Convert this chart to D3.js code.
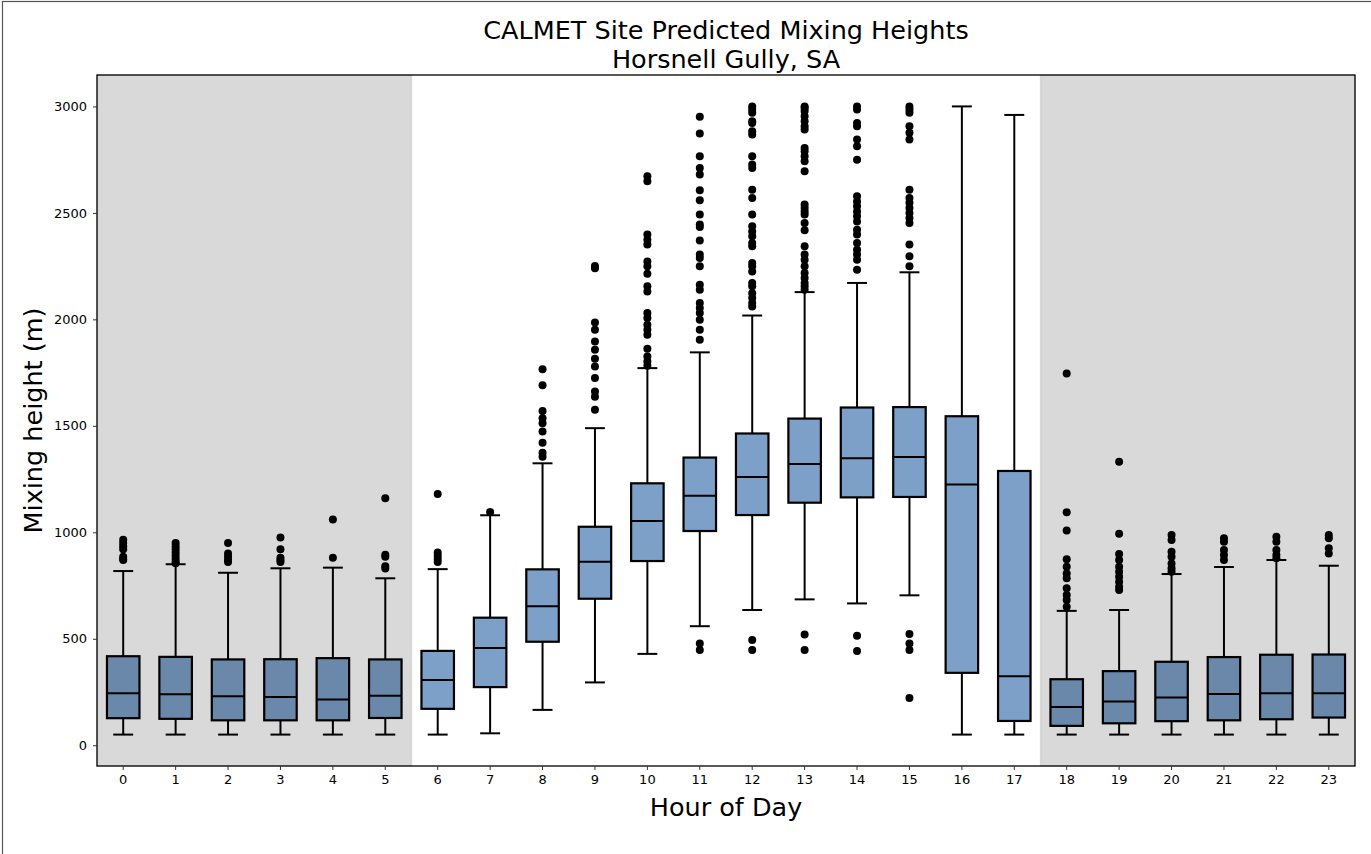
<!DOCTYPE html>
<html>
<head>
<meta charset="utf-8">
<script src="https://cdn.jsdelivr.net/npm/d3@7"></script>
<style>
    body { margin: 0; background: #fff; }
    svg { display: block; font-family: "DejaVu Sans", sans-serif; }
</style>
</head>
<body>
<div id="chart"></div>
<script>
const hours = d3.range(24);

const whiskerLow  = [50, 50, 50, 50, 50, 50, 50, 56, 166, 295, 429, 559, 635, 685, 666, 704, 50, 50, 50, 50, 50, 50, 50, 50];
const q1          = [127, 124, 117, 117, 117, 128, 171, 273, 486, 688, 865, 1006, 1081, 1139, 1164, 1166, 340, 114, 91, 103, 113, 117, 122, 130];
const medians     = [244, 240, 230, 227, 215, 232, 306, 457, 653, 862, 1053, 1172, 1260, 1321, 1348, 1354, 1224, 324, 179, 205, 224, 241, 244, 244];
const q3          = [418, 415, 403, 404, 409, 403, 443, 599, 826, 1026, 1230, 1351, 1464, 1534, 1586, 1588, 1545, 1288, 310, 348, 392, 414, 425, 426];
const whiskerHigh = [818, 850, 810, 831, 834, 784, 827, 1080, 1324, 1489, 1771, 1845, 2018, 2128, 2171, 2221, 3000, 2960, 631, 635, 804, 837, 870, 843];

const outliers = [
    [965, 950, 935, 920, 885, 875, 870],
    [950, 935, 920, 905, 890, 875, 860, 855],
    [950, 900, 885, 870, 860],
    [975, 920, 880, 870, 860],
    [1060, 880],
    [1160, 895, 885, 840, 830],
    [1180, 905, 890, 875, 860],
    [1095],
    [1766, 1691, 1570, 1536, 1512, 1473, 1421, 1374, 1355],
    [2250, 2240, 1985, 1951, 1896, 1857, 1815, 1779, 1724, 1661, 1637, 1575],
    [2672, 2648, 2398, 2374, 2351, 2272, 2249, 2214, 2155, 2131, 2030, 2006, 1975, 1951, 1928, 1862, 1826, 1802, 1782],
    [2951, 2873, 2766, 2711, 2680, 2606, 2559, 2492, 2445, 2434, 2370, 2304, 2288, 2249, 2163, 2139, 2077, 2053, 2030, 1998, 1951, 1904, 478, 447],
    [3000, 2985, 2970, 2930, 2922, 2883, 2868, 2766, 2727, 2711, 2609, 2570, 2492, 2437, 2413, 2390, 2359, 2343, 2265, 2249, 2225, 2171, 2155, 2123, 2100, 2077, 2060, 494, 447],
    [3000, 2993, 2978, 2954, 2930, 2907, 2891, 2805, 2789, 2766, 2742, 2695, 2539, 2523, 2507, 2492, 2453, 2418, 2343, 2304, 2280, 2249, 2218, 2194, 2171, 2155, 2139, 520, 447],
    [3000, 2985, 2922, 2907, 2845, 2813, 2750, 2578, 2554, 2531, 2507, 2484, 2460, 2421, 2398, 2359, 2327, 2304, 2280, 2233, 514, 443],
    [3000, 2985, 2970, 2907, 2876, 2845, 2609, 2570, 2547, 2523, 2500, 2476, 2453, 2351, 2296, 2249, 522, 478, 447, 222],
    [],
    [],
    [1746, 1094, 1008, 874, 838, 807, 784, 737, 705, 682, 650],
    [1331, 993, 898, 870, 838, 815, 791, 768, 744, 729],
    [987, 964, 909, 885, 854, 831, 815],
    [972, 956, 917, 893, 870],
    [979, 956, 917, 893, 878],
    [987, 972, 925, 901]
];

const yTicks = [0, 500, 1000, 1500, 2000, 2500, 3000];
const nightSpans = [[-0.5, 5.5], [17.5, 23.5]];
const titleLines = ["CALMET Site Predicted Mixing Heights", "Horsnell Gully, SA"];

class MixingBox {
    constructor(parentElement) {
        this.parentElement = parentElement;
        this.initVis();
    }

    initVis() {
        let vis = this;

        vis.margin = {top: 75, right: 16, bottom: 88, left: 97};
        vis.totalWidth = 1371;
        vis.totalHeight = 854;
        vis.width = vis.totalWidth - vis.margin.left - vis.margin.right;
        vis.height = vis.totalHeight - vis.margin.top - vis.margin.bottom;

        vis.root = d3.select("#" + vis.parentElement).append("svg")
            .attr("width", vis.totalWidth)
            .attr("height", vis.totalHeight);

        // figure frame (only top and left edges visible in the crop)
        vis.root.append("rect")
            .attr("x", 2.5).attr("y", 1.5)
            .attr("width", vis.totalWidth + 10).attr("height", vis.totalHeight + 10)
            .attr("fill", "none").attr("stroke", "#555").attr("stroke-width", 1.2);

        vis.svg = vis.root.append("g")
            .attr("transform", `translate(${vis.margin.left},${vis.margin.top})`);

        vis.x = d3.scaleBand()
            .domain(hours)
            .range([0, vis.width]);

        // continuous helper so the shaded spans can sit at half-hours
        vis.xLin = d3.scaleLinear()
            .domain([-0.5, 23.5])
            .range([0, vis.width]);

        vis.y = d3.scaleLinear()
            .domain([-97.5, 3147.5])
            .range([vis.height, 0]);

        vis.xAxis = d3.axisBottom(vis.x).tickSizeOuter(0).tickSize(4).tickPadding(5);
        vis.yAxis = d3.axisLeft(vis.y).tickValues(yTicks).tickFormat(d3.format("d"))
            .tickSizeOuter(0).tickSize(4).tickPadding(6);

        vis.wrangleData();
    }

    wrangleData() {
        let vis = this;

        vis.displayData = hours.map((h, i) => ({
            hour: h,
            lo: whiskerLow[i],
            q1: q1[i],
            med: medians[i],
            q3: q3[i],
            hi: whiskerHigh[i],
            fliers: outliers[i]
        }));

        vis.flierData = [];
        vis.displayData.forEach(d => d.fliers.forEach(v => vis.flierData.push({hour: d.hour, value: v})));

        vis.updateVis();
    }

    updateVis() {
        let vis = this;

        let bw = vis.x.bandwidth();
        let boxW = bw * 0.62;
        let capW = bw * 0.38;
        let cx = d => vis.x(d.hour) + bw / 2;

        let groups = vis.svg.selectAll(".box")
            .data(vis.displayData)
            .enter().append("g")
            .attr("class", "box");

        // whiskers
        groups.append("line")
            .attr("x1", cx).attr("x2", cx)
            .attr("y1", d => vis.y(d.q3)).attr("y2", d => vis.y(d.hi))
            .attr("stroke", "#000").attr("stroke-width", 2);
        groups.append("line")
            .attr("x1", cx).attr("x2", cx)
            .attr("y1", d => vis.y(d.q1)).attr("y2", d => vis.y(d.lo))
            .attr("stroke", "#000").attr("stroke-width", 2);

        // caps
        ["hi", "lo"].forEach(key => {
            groups.append("line")
                .attr("x1", d => cx(d) - capW / 2).attr("x2", d => cx(d) + capW / 2)
                .attr("y1", d => vis.y(d[key])).attr("y2", d => vis.y(d[key]))
                .attr("stroke", "#000").attr("stroke-width", 2);
        });

        groups.append("rect")
            .attr("x", d => cx(d) - boxW / 2)
            .attr("y", d => vis.y(d.q3))
            .attr("width", boxW)
            .attr("height", d => vis.y(d.q1) - vis.y(d.q3))
            .attr("fill", "#7ca0c8")
            .attr("stroke", "#000")
            .attr("stroke-width", 2.2);

        groups.append("line")
            .attr("x1", d => cx(d) - boxW / 2).attr("x2", d => cx(d) + boxW / 2)
            .attr("y1", d => vis.y(d.med)).attr("y2", d => vis.y(d.med))
            .attr("stroke", "#000").attr("stroke-width", 2);

        vis.svg.selectAll(".flier")
            .data(vis.flierData)
            .enter().append("circle")
            .attr("class", "flier")
            .attr("cx", d => vis.x(d.hour) + bw / 2)
            .attr("cy", d => vis.y(d.value))
            .attr("r", 4)
            .attr("fill", "#000");

        // night hours shaded on top of the boxes
        vis.svg.selectAll(".night")
            .data(nightSpans)
            .enter().append("rect")
            .attr("class", "night")
            .attr("x", d => vis.xLin(d[0]))
            .attr("y", 0)
            .attr("width", d => vis.xLin(d[1]) - vis.xLin(d[0]))
            .attr("height", vis.height)
            .attr("fill", "#000")
            .attr("fill-opacity", 0.15)
            .attr("stroke", "#000")
            .attr("stroke-opacity", 0.08)
            .attr("stroke-width", 1.5);

        // frame
        vis.svg.append("rect")
            .attr("width", vis.width).attr("height", vis.height)
            .attr("fill", "none").attr("stroke", "#000").attr("stroke-width", 1.3);

        let xg = vis.svg.append("g")
            .attr("class", "x-axis axis")
            .attr("transform", `translate(0,${vis.height})`)
            .call(vis.xAxis);
        let yg = vis.svg.append("g")
            .attr("class", "y-axis axis")
            .call(vis.yAxis);

        [xg, yg].forEach(g => {
            g.select(".domain").remove();
            g.selectAll(".tick line").attr("stroke", "#333").attr("stroke-width", 1);
            g.selectAll(".tick text")
                .attr("fill", "#000")
                .style("font-size", "13px")
                .style("font-family", "DejaVu Sans");
        });

        // titles and labels
        vis.root.selectAll(".title")
            .data(titleLines)
            .enter().append("text")
            .attr("class", "title")
            .attr("x", vis.margin.left + vis.width / 2)
            .attr("y", (d, i) => 39 + i * 29)
            .attr("text-anchor", "middle")
            .style("font-size", "25.5px")
            .text(d => d);

        vis.root.append("text")
            .attr("x", vis.margin.left + vis.width / 2)
            .attr("y", 816)
            .attr("text-anchor", "middle")
            .style("font-size", "25.5px")
            .text("Hour of Day");

        vis.root.append("text")
            .attr("transform", `translate(42,${vis.margin.top + vis.height / 2}) rotate(-90)`)
            .attr("text-anchor", "middle")
            .style("font-size", "25.5px")
            .text("Mixing height (m)");
    }
}

new MixingBox("chart");
</script>
</body>
</html>
